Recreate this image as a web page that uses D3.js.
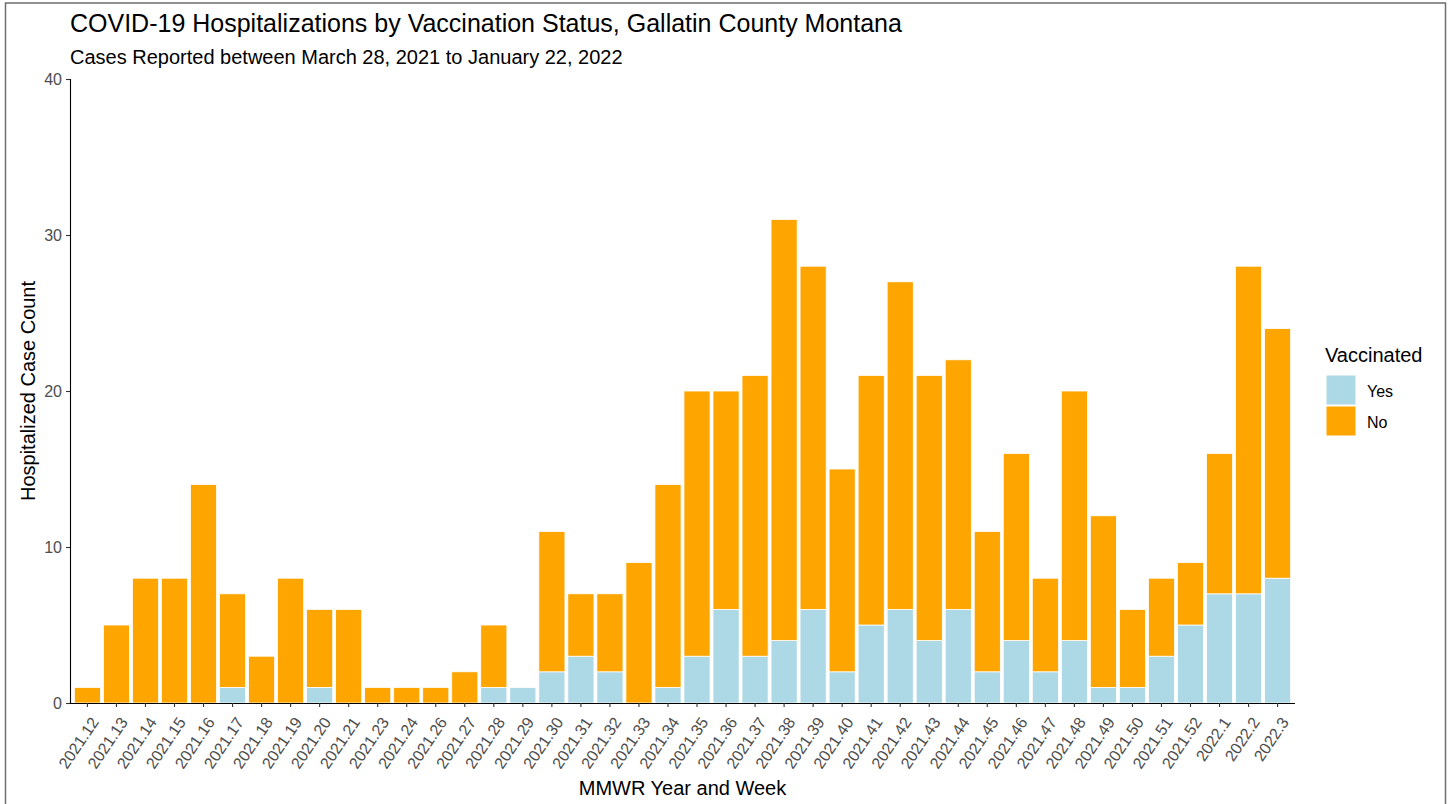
<!DOCTYPE html>
<html>
<head>
<meta charset="utf-8">
<script src="https://cdn.jsdelivr.net/npm/d3@7"></script>
<style>
  body { margin: 0; background: #fff; }
  svg { display: block; font-family: "Liberation Sans", Arial, sans-serif; }
</style>
</head>
<body>
<div id="chart"></div>
<script>
// MMWR year.week labels
var weeks = ["2021.12", "2021.13", "2021.14", "2021.15", "2021.16", "2021.17", "2021.18", "2021.19",
    "2021.20", "2021.21", "2021.23", "2021.24", "2021.26", "2021.27", "2021.28", "2021.29",
    "2021.30", "2021.31", "2021.32", "2021.33", "2021.34", "2021.35", "2021.36", "2021.37",
    "2021.38", "2021.39", "2021.40", "2021.41", "2021.42", "2021.43", "2021.44", "2021.45",
    "2021.46", "2021.47", "2021.48", "2021.49", "2021.50", "2021.51", "2021.52", "2022.1",
    "2022.2", "2022.3"];
var vaccYes = [0, 0, 0, 0, 0, 1, 0, 0, 1, 0, 0, 0, 0, 0, 1, 1,
    2, 3, 2, 0, 1, 3, 6, 3, 4, 6, 2, 5, 6, 4, 6, 2,
    4, 2, 4, 1, 1, 3, 5, 7, 7, 8];
var vaccNo = [1, 5, 8, 8, 14, 6, 3, 8, 5, 6, 1, 1, 1, 2, 4, 0,
    9, 4, 5, 9, 13, 17, 14, 18, 27, 22, 13, 16, 21, 17, 16, 9,
    12, 6, 16, 11, 5, 5, 4, 9, 21, 16];
var yTicks = [0, 10, 20, 30, 40];
var groups = ["Yes", "No"];
var colors = {Yes: "#add8e6", No: "#ffa500"};

var width = 1448, height = 804;
var margin = {top: 79, right: 153, bottom: 101, left: 70};

var svg = d3.select("#chart").append("svg")
    .attr("width", width)
    .attr("height", height);

// outer frame
svg.append("rect")
    .attr("x", 5.5).attr("y", 3)
    .attr("width", 1440).attr("height", 806)
    .attr("fill", "none")
    .attr("stroke", "#6e6e6e")
    .attr("stroke-width", 1.5);

var rows = weeks.map(function(w, i) {
    return {week: w, Yes: vaccYes[i], No: vaccNo[i]};
});
var stacked = d3.stack().keys(groups)(rows);

var plotW = width - margin.left - margin.right;
var plotH = height - margin.top - margin.bottom;

// ggplot style discrete expansion: 0.6 of a step at each end
var step = plotW / (weeks.length - 1 + 1.2);
var x = d3.scaleBand()
    .domain(weeks)
    .range([margin.left + 0.6 * step - step / 2, margin.left + plotW - 0.6 * step + step / 2])
    .paddingInner(0.1)
    .paddingOuter(0.05);

var y = d3.scaleLinear()
    .domain([0, 40])
    .range([margin.top + plotH, margin.top]);

svg.append("g")
    .selectAll("g")
    .data(stacked)
    .enter().append("g")
    .attr("fill", function(d) { return colors[d.key]; })
    .selectAll("rect")
    .data(function(d) { return d; })
    .enter().append("rect")
    .filter(function(d) { return d[1] > d[0]; })
    .attr("x", function(d) { return x(d.data.week); })
    .attr("y", function(d) { return y(d[1]); })
    .attr("width", x.bandwidth())
    .attr("height", function(d) { return y(d[0]) - y(d[1]); })
    .attr("stroke", "#fff")
    .attr("stroke-width", 0.8);

// y axis
var yAxis = svg.append("g")
    .attr("transform", "translate(" + margin.left + ",0)")
    .call(d3.axisLeft(y).tickValues(yTicks).tickSize(4).tickPadding(4));
yAxis.select(".domain").attr("stroke", "#000").attr("stroke-width", 1.1);
yAxis.selectAll(".tick line").attr("stroke", "#333").attr("stroke-width", 1.1);
yAxis.selectAll(".tick text").attr("fill", "#4d4d4d").style("font-size", "16px");

// x axis
var xAxis = svg.append("g")
    .attr("transform", "translate(0," + (margin.top + plotH) + ")")
    .call(d3.axisBottom(x).tickSize(4).tickSizeOuter(0));
xAxis.select(".domain")
    .attr("d", "M" + margin.left + ",0.5H" + (margin.left + plotW))
    .attr("stroke", "#000").attr("stroke-width", 1.1);
xAxis.selectAll(".tick line").attr("stroke", "#333").attr("stroke-width", 1.1);
xAxis.selectAll(".tick text")
    .attr("fill", "#4d4d4d")
    .style("font-size", "16px")
    .attr("text-anchor", "end")
    .attr("x", 0).attr("y", 0)
    .attr("dx", 0).attr("dy", 0)
    .attr("transform", "translate(12,19) rotate(-56)");

// titles
svg.append("text")
    .attr("x", 70).attr("y", 32)
    .style("font-size", "25px")
    .attr("fill", "#000")
    .text("COVID-19 Hospitalizations by Vaccination Status, Gallatin County Montana");

svg.append("text")
    .attr("x", 70).attr("y", 64)
    .style("font-size", "20px")
    .attr("fill", "#000")
    .text("Cases Reported between March 28, 2021 to January 22, 2022");

svg.append("text")
    .attr("x", margin.left + plotW / 2).attr("y", 795)
    .attr("text-anchor", "middle")
    .style("font-size", "20px")
    .attr("fill", "#000")
    .text("MMWR Year and Week");

svg.append("text")
    .attr("transform", "translate(35," + (margin.top + plotH / 2) + ") rotate(-90)")
    .attr("text-anchor", "middle")
    .style("font-size", "20px")
    .attr("fill", "#000")
    .text("Hospitalized Case Count");

// legend
var legend = svg.append("g").attr("transform", "translate(1325,0)");
legend.append("text")
    .attr("x", 0).attr("y", 362)
    .style("font-size", "20px")
    .attr("fill", "#000")
    .text("Vaccinated");

var keys = legend.selectAll("g.key")
    .data(groups)
    .enter().append("g")
    .attr("class", "key")
    .attr("transform", function(d, i) { return "translate(0," + (375 + i * 31) + ")"; });
keys.append("rect")
    .attr("x", 1).attr("y", 0)
    .attr("width", 30).attr("height", 30)
    .attr("fill", function(d) { return colors[d]; })
    .attr("stroke", "#fff");
keys.append("text")
    .attr("x", 42).attr("y", 22)
    .style("font-size", "16px")
    .attr("fill", "#000")
    .text(function(d) { return d; });
</script>
</body>
</html>
